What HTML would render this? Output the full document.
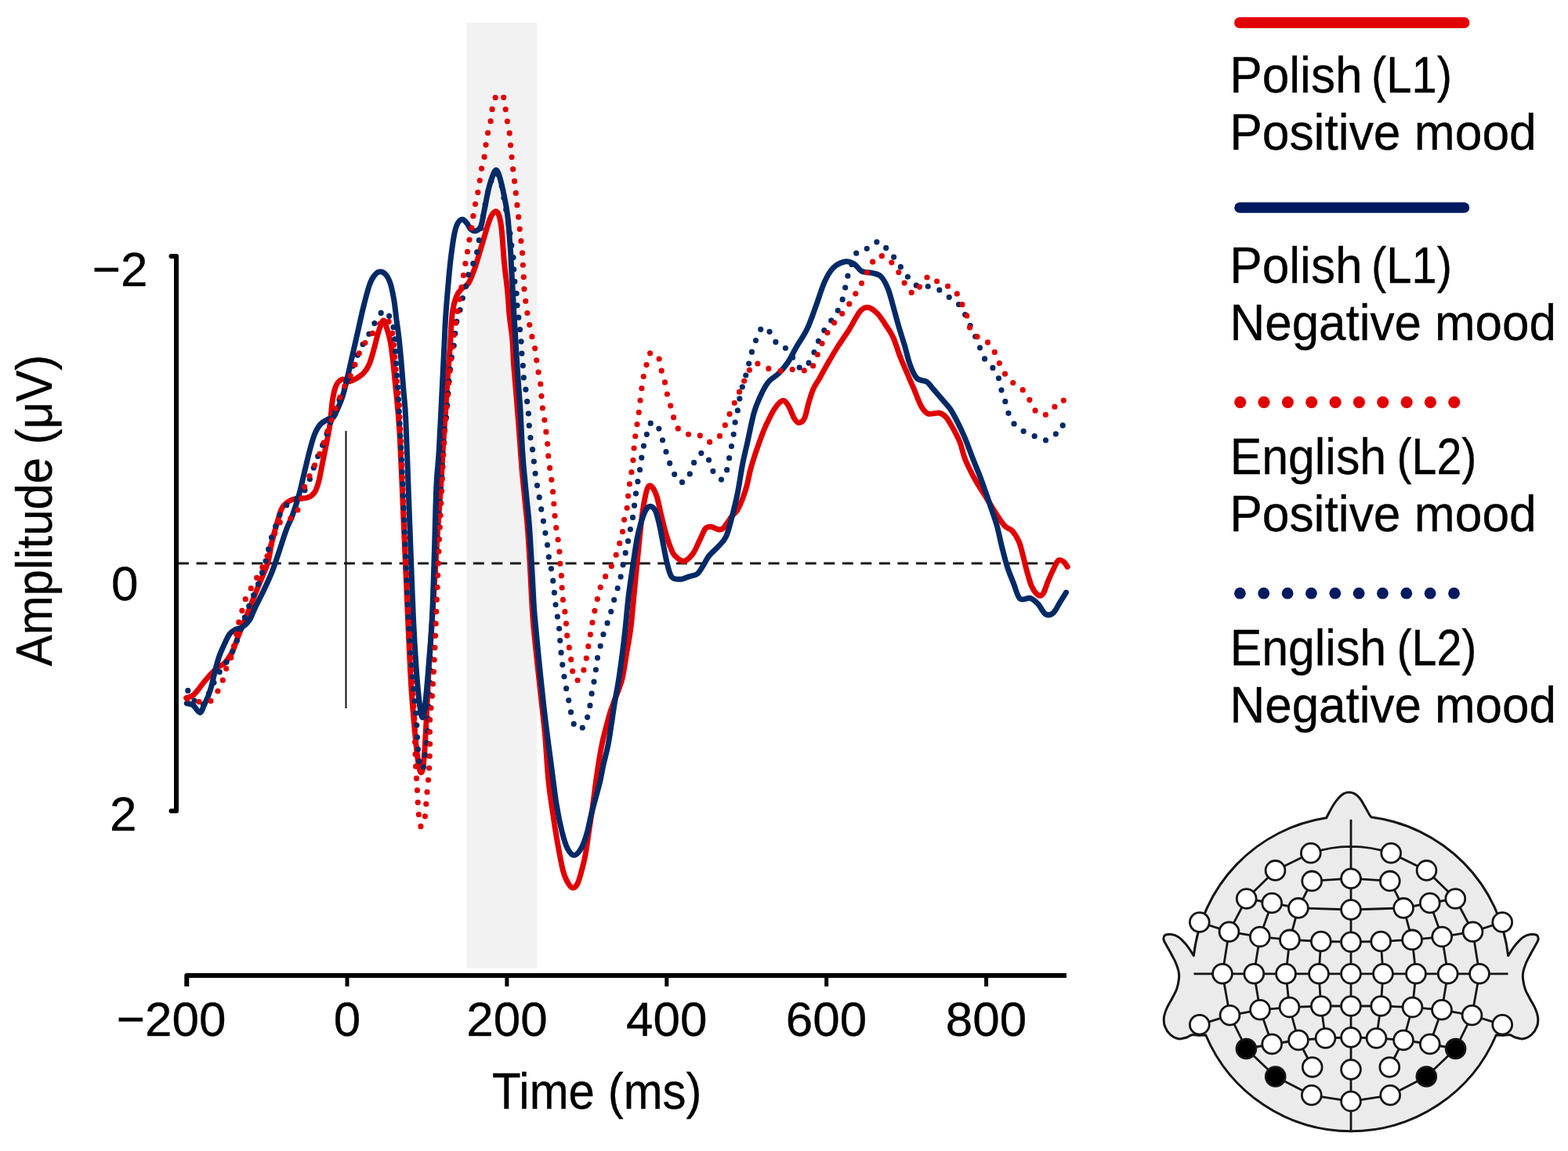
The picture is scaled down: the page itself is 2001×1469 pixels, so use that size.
<!DOCTYPE html><html><head><meta charset="utf-8"><title>ERP figure</title><style>html,body{margin:0;padding:0;background:#fff;overflow:hidden;width:2001px;height:1469px;}svg{display:block;}</style></head><body><svg width="2001" height="1469" viewBox="0 0 2001 1469">
<rect width="2001" height="1469" fill="#fff"/>
<rect x="595.5" y="29" width="90" height="1207" fill="#f2f2f2"/>
<line x1="227" y1="719" x2="1361" y2="719" stroke="#1a1a1a" stroke-width="3" stroke-dasharray="14 9.55"/>
<line x1="441.5" y1="550" x2="441.5" y2="904" stroke="#111" stroke-width="2"/>
<path d="M218.5 327 L225 327 L225 1035 L218.5 1035" fill="none" stroke="#000" stroke-width="6" stroke-linejoin="round" stroke-linecap="round"/>
<path d="M238.3 1259 L238.3 1245 L1361 1245" fill="none" stroke="#000" stroke-width="6" stroke-linejoin="round"/>
<line x1="443.0" y1="1245" x2="443.0" y2="1259" stroke="#000" stroke-width="5"/>
<line x1="646.9" y1="1245" x2="646.9" y2="1259" stroke="#000" stroke-width="5"/>
<line x1="850.8" y1="1245" x2="850.8" y2="1259" stroke="#000" stroke-width="5"/>
<line x1="1054.7" y1="1245" x2="1054.7" y2="1259" stroke="#000" stroke-width="5"/>
<line x1="1258.6" y1="1245" x2="1258.6" y2="1259" stroke="#000" stroke-width="5"/>
<path d="M237.6 890.7 C239.1 890.2 243.8 889.1 246.3 887.4 C248.9 885.7 250.7 882.9 252.9 880.3 C255.1 877.7 257.3 874.2 259.4 871.6 C261.5 869.0 263.5 866.7 265.4 864.5 C267.3 862.3 268.5 860.8 270.8 858.5 C273.1 856.2 276.3 853.1 279.0 851.0 C281.7 848.9 284.2 849.0 287.0 846.0 C289.8 843.0 293.7 836.8 295.9 833.0 C298.1 829.2 298.6 826.5 300.0 823.0 C301.4 819.5 302.6 815.7 304.0 812.0 C305.4 808.3 306.4 806.0 308.5 801.0 C310.6 796.0 313.6 788.7 316.3 782.0 C319.0 775.3 321.8 767.8 324.5 761.0 C327.2 754.2 329.7 748.1 332.6 741.0 C335.5 733.9 339.3 726.3 341.7 718.3 C344.1 710.3 344.8 701.3 346.8 692.8 C348.8 684.3 351.3 674.8 353.6 667.2 C355.9 659.7 357.5 652.3 360.4 647.5 C363.3 642.7 367.3 640.4 370.9 638.5 C374.5 636.6 378.2 636.8 381.8 636.2 C385.4 635.6 389.4 636.4 392.7 635.1 C396.0 633.8 399.0 632.0 401.4 628.5 C403.8 625.0 405.2 620.4 406.8 614.4 C408.4 608.4 409.7 599.9 411.2 592.6 C412.7 585.3 414.2 578.1 415.6 570.8 C417.1 563.5 418.8 555.4 419.9 549.0 C421.0 542.6 421.4 539.1 422.1 532.7 C422.8 526.4 423.2 517.7 424.3 510.9 C425.4 504.1 426.9 496.5 429.0 492.0 C431.1 487.5 434.4 484.8 437.0 484.0 C439.6 483.2 441.8 487.1 444.5 487.0 C447.2 486.9 450.2 485.5 453.5 483.7 C456.8 481.9 461.0 479.4 464.0 476.2 C467.0 473.0 469.2 469.5 471.4 464.3 C473.6 459.1 475.4 451.8 477.4 444.8 C479.4 437.8 481.4 428.3 483.4 422.3 C485.4 416.3 487.5 408.9 489.4 408.9 C491.3 408.9 493.1 417.6 494.6 422.3 C496.1 427.0 497.3 431.1 498.4 437.3 C499.5 443.6 500.4 451.1 501.4 459.8 C502.4 468.5 503.4 479.7 504.4 489.7 C505.4 499.7 506.4 507.9 507.4 519.6 C508.4 531.3 509.3 539.8 510.4 559.9 C511.5 580.0 512.8 613.3 514.0 640.0 C515.2 666.7 516.3 693.3 517.5 720.0 C518.7 746.7 519.8 773.3 521.0 800.0 C522.2 826.7 523.5 856.7 525.0 880.0 C526.5 903.3 528.5 924.2 530.0 940.0 C531.5 955.8 532.8 967.3 534.0 975.0 C535.2 982.7 536.4 986.0 537.5 986.0 C538.6 986.0 539.6 982.7 540.5 975.0 C541.4 967.3 542.2 952.5 543.0 940.0 C543.8 927.5 544.2 915.0 545.0 900.0 C545.8 885.0 546.4 868.3 547.5 850.0 C548.6 831.7 550.1 811.7 551.5 790.0 C552.9 768.3 554.8 740.0 556.0 720.0 C557.2 700.0 557.9 686.7 559.0 670.0 C560.1 653.3 561.7 635.5 562.7 619.8 C563.7 604.1 564.2 591.4 565.1 575.9 C566.0 560.4 567.3 543.2 568.4 526.9 C569.5 510.6 570.6 492.5 571.6 478.0 C572.6 463.5 573.6 453.0 574.5 440.0 C575.4 427.0 575.9 410.2 577.2 400.0 C578.5 389.8 580.3 383.9 582.3 378.7 C584.3 373.4 586.5 371.3 589.1 368.5 C591.7 365.7 594.9 366.2 597.7 361.7 C600.6 357.2 603.7 348.4 606.2 341.3 C608.8 334.2 611.0 325.6 613.0 319.1 C615.0 312.6 616.4 307.8 618.1 302.1 C619.8 296.4 621.7 289.6 623.2 285.1 C624.8 280.6 625.8 277.4 627.4 274.9 C629.0 272.3 631.0 269.8 632.6 269.8 C634.2 269.8 635.5 270.9 636.8 274.9 C638.1 278.9 639.1 283.4 640.2 293.6 C641.3 303.8 642.4 323.5 643.6 336.2 C644.8 348.9 646.4 359.0 647.5 370.0 C648.6 381.0 649.0 391.5 650.0 402.0 C651.0 412.5 652.9 422.7 653.8 433.0 C654.7 443.3 654.7 452.8 655.5 464.0 C656.3 475.2 657.5 488.2 658.5 500.0 C659.5 511.8 660.4 523.5 661.3 535.0 C662.2 546.5 663.0 558.2 663.8 569.0 C664.6 579.8 665.1 588.2 666.1 600.0 C667.1 611.8 668.9 628.3 670.0 640.0 C671.1 651.7 672.0 657.5 673.0 670.0 C674.0 682.5 675.1 700.0 676.0 715.0 C676.9 730.0 677.5 746.7 678.3 760.0 C679.0 773.3 679.4 781.7 680.5 795.0 C681.6 808.3 683.2 822.5 685.0 840.0 C686.8 857.5 689.7 883.3 691.5 900.0 C693.3 916.7 694.3 923.8 695.7 940.0 C697.1 956.2 698.3 980.5 700.0 997.2 C701.7 1013.9 703.9 1027.0 705.8 1040.1 C707.7 1053.2 709.4 1064.0 711.5 1075.9 C713.6 1087.8 716.5 1103.4 718.6 1111.7 C720.7 1120.0 722.3 1122.4 724.3 1126.0 C726.3 1129.6 728.6 1132.9 730.8 1133.1 C732.9 1133.3 735.2 1131.5 737.2 1127.4 C739.2 1123.4 741.2 1115.0 742.9 1108.8 C744.6 1102.6 745.8 1098.1 747.2 1090.2 C748.6 1082.3 750.1 1071.1 751.5 1061.6 C752.9 1052.1 754.1 1044.9 755.8 1033.0 C757.5 1021.1 759.6 1003.2 761.5 990.1 C763.4 977.0 765.3 964.6 767.3 954.3 C769.3 943.9 771.5 935.7 773.5 928.0 C775.5 920.3 777.2 913.8 779.0 908.0 C780.8 902.2 782.8 897.7 784.5 893.0 C786.2 888.3 787.9 884.5 789.5 880.0 C791.1 875.5 792.4 873.5 794.1 866.0 C795.8 858.5 797.7 845.8 799.5 834.9 C801.3 824.0 803.4 813.4 805.0 800.9 C806.6 788.4 807.6 773.8 809.0 760.0 C810.4 746.2 811.8 731.2 813.1 718.0 C814.4 704.8 815.6 692.2 816.8 681.0 C818.0 669.8 819.0 660.2 820.4 651.0 C821.8 641.8 823.7 631.2 825.3 626.0 C826.9 620.8 828.2 619.0 830.2 620.0 C832.2 621.0 835.4 625.8 837.6 632.0 C839.9 638.2 841.7 648.8 843.7 657.0 C845.7 665.2 847.8 673.9 849.8 681.0 C851.8 688.1 854.1 694.9 856.0 699.6 C857.9 704.3 858.2 706.2 861.0 709.0 C863.8 711.8 868.8 716.6 872.6 716.2 C876.5 715.9 880.6 711.5 884.1 706.9 C887.6 702.3 890.7 693.8 893.4 688.4 C896.1 683.0 898.0 677.2 900.3 674.5 C902.6 671.8 904.6 672.0 907.3 672.2 C910.0 672.4 914.0 675.2 916.5 675.7 C919.0 676.2 920.2 676.1 922.0 675.0 C923.8 673.9 925.3 671.2 927.0 669.0 C928.7 666.8 930.4 663.7 932.0 661.5 C933.6 659.3 935.0 657.7 936.5 656.0 C938.0 654.3 939.1 654.5 940.9 651.3 C942.7 648.1 945.5 642.2 947.5 637.0 C949.5 631.8 951.3 626.2 953.0 620.0 C954.7 613.8 956.0 605.8 957.5 600.0 C959.0 594.2 960.4 590.0 962.0 585.0 C963.6 580.0 965.2 575.0 967.0 570.0 C968.8 565.0 970.5 560.1 972.5 555.0 C974.5 549.9 976.3 545.2 979.0 539.6 C981.7 534.0 985.5 525.9 988.8 521.2 C992.1 516.5 995.7 512.0 998.6 511.4 C1001.5 510.8 1003.5 513.9 1006.0 517.6 C1008.5 521.3 1011.1 529.8 1013.3 533.5 C1015.5 537.2 1017.1 539.6 1019.4 539.6 C1021.6 539.6 1024.8 537.6 1026.8 533.5 C1028.8 529.4 1029.9 521.2 1031.7 515.1 C1033.5 509.0 1035.5 502.0 1037.8 496.7 C1040.1 491.4 1042.4 488.8 1045.6 483.2 C1048.8 477.6 1052.7 470.1 1056.8 463.0 C1060.9 455.9 1065.8 447.6 1070.3 440.5 C1074.8 433.4 1079.3 427.4 1083.8 420.3 C1088.3 413.2 1093.3 402.5 1097.2 397.8 C1101.1 393.1 1103.5 391.8 1107.3 392.2 C1111.0 392.6 1115.8 396.2 1119.7 400.1 C1123.6 404.0 1127.5 410.7 1130.9 415.8 C1134.3 420.9 1137.0 424.3 1140.0 431.0 C1143.0 437.7 1146.0 448.4 1149.0 456.0 C1152.0 463.6 1154.8 469.7 1157.7 476.5 C1160.6 483.3 1163.5 489.9 1166.5 496.9 C1169.5 503.8 1172.5 513.0 1175.4 518.2 C1178.4 523.4 1180.4 526.4 1184.2 527.9 C1188.0 529.4 1194.6 526.3 1198.4 527.0 C1202.2 527.7 1204.2 529.0 1207.2 532.3 C1210.2 535.5 1213.1 541.2 1216.1 546.5 C1219.0 551.8 1222.2 557.5 1224.9 564.2 C1227.6 571.0 1228.7 579.0 1232.0 587.0 C1235.3 595.0 1240.2 604.5 1244.5 612.3 C1248.8 620.0 1253.2 626.4 1257.6 633.5 C1262.0 640.6 1266.6 648.5 1270.7 654.8 C1274.8 661.1 1278.6 667.3 1282.1 671.1 C1285.6 674.9 1288.9 674.3 1291.9 677.6 C1294.9 680.9 1297.9 685.8 1300.1 690.7 C1302.3 695.6 1303.4 701.1 1305.0 707.1 C1306.6 713.1 1308.0 719.9 1309.9 726.7 C1311.8 733.5 1314.0 742.5 1316.4 747.9 C1318.9 753.3 1322.1 757.7 1324.6 759.3 C1327.0 760.9 1328.9 760.7 1331.1 757.7 C1333.3 754.7 1335.4 746.6 1337.6 741.4 C1339.8 736.2 1342.0 731.1 1344.2 726.7 C1346.4 722.3 1348.5 716.8 1350.7 715.2 C1352.9 713.6 1355.4 715.5 1357.3 716.9 C1359.2 718.3 1361.4 722.3 1362.2 723.4" fill="none" stroke="#e00000" stroke-width="7" stroke-linejoin="round" stroke-linecap="round"/>
<path d="M238.2 897.7 C239.5 898.1 243.5 897.9 246.3 899.9 C249.1 901.9 252.7 909.5 255.1 909.5 C257.5 909.5 258.8 903.3 260.5 899.9 C262.2 896.5 263.9 892.6 265.4 889.0 C266.8 885.4 268.0 882.2 269.2 878.1 C270.4 874.0 271.4 869.0 272.5 864.5 C273.6 860.0 274.6 855.5 275.8 850.9 C277.1 846.3 278.4 841.4 280.0 837.0 C281.6 832.6 283.2 828.9 285.4 824.3 C287.5 819.7 290.4 812.9 292.9 809.4 C295.4 805.9 297.6 804.9 300.4 803.4 C303.1 801.9 306.4 802.4 309.4 800.4 C312.4 798.4 315.6 795.6 318.4 791.4 C321.1 787.1 323.1 780.6 325.9 774.9 C328.6 769.1 331.9 763.1 334.9 756.9 C337.9 750.7 341.4 743.2 343.9 737.5 C346.4 731.8 347.7 728.5 349.9 722.5 C352.1 716.5 354.4 709.1 357.0 701.3 C359.6 693.5 362.8 682.9 365.5 675.7 C368.2 668.5 370.4 665.5 373.1 658.0 C375.8 650.5 379.3 639.8 381.8 630.7 C384.3 621.6 386.1 612.6 388.3 603.5 C390.5 594.4 392.7 584.5 394.9 576.3 C397.1 568.1 399.0 560.3 401.4 554.5 C403.8 548.7 406.1 544.7 409.0 541.4 C411.9 538.1 416.1 536.3 418.8 534.9 C421.5 533.5 423.4 534.9 425.4 532.7 C427.4 530.5 428.9 525.9 430.8 521.8 C432.7 517.7 434.7 513.4 436.5 508.0 C438.3 502.6 439.4 498.2 441.5 489.7 C443.6 481.2 446.5 467.8 449.0 456.8 C451.5 445.8 454.0 434.8 456.5 423.8 C459.0 412.8 461.5 400.9 464.0 390.9 C466.5 380.9 469.2 370.5 471.4 364.0 C473.6 357.5 475.1 354.9 477.4 352.0 C479.6 349.1 482.4 346.9 484.9 346.7 C487.4 346.4 490.1 347.9 492.4 350.5 C494.6 353.1 496.6 357.0 498.4 362.5 C500.1 368.0 501.6 375.9 502.9 383.4 C504.1 390.9 504.9 399.7 505.9 407.4 C506.9 415.1 507.9 421.1 508.9 429.8 C509.9 438.5 510.9 448.6 511.9 459.8 C512.9 471.0 513.9 484.7 514.9 497.2 C515.9 509.7 516.8 514.1 517.8 534.6 C518.8 555.1 520.0 592.4 521.0 620.0 C522.0 647.6 522.9 671.7 524.0 700.0 C525.1 728.3 526.3 765.0 527.5 790.0 C528.7 815.0 529.8 832.5 531.0 850.0 C532.2 867.5 533.7 884.0 535.0 895.0 C536.3 906.0 537.7 915.7 539.0 915.7 C540.3 915.7 541.7 906.0 543.0 895.0 C544.3 884.0 545.6 867.5 547.0 850.0 C548.4 832.5 550.1 815.0 551.4 790.0 C552.6 765.0 553.6 728.4 554.5 700.0 C555.4 671.6 555.9 640.5 556.9 619.8 C557.9 599.1 559.1 594.1 560.2 575.9 C561.3 557.7 562.4 532.4 563.5 510.6 C564.6 488.8 565.8 463.0 566.7 445.3 C567.6 427.6 567.8 418.2 568.7 404.3 C569.6 390.4 571.0 374.5 572.1 361.7 C573.2 348.9 574.2 338.2 575.5 327.7 C576.8 317.2 578.4 305.8 579.8 298.7 C581.2 291.6 582.3 288.2 584.0 285.1 C585.7 282.0 588.0 280.0 590.0 280.0 C592.0 280.0 594.2 283.0 596.0 285.1 C597.8 287.2 599.0 291.2 601.0 292.8 C603.0 294.4 605.8 295.2 607.9 294.5 C610.0 293.8 612.1 292.9 613.8 288.5 C615.5 284.1 616.5 275.8 618.1 268.1 C619.7 260.5 621.5 249.7 623.2 242.6 C624.9 235.5 626.6 229.8 628.3 225.5 C630.0 221.2 631.7 216.4 633.4 217.0 C635.1 217.6 636.8 223.2 638.5 228.9 C640.2 234.6 642.0 243.1 643.6 251.1 C645.2 259.1 646.6 265.1 647.9 276.6 C649.2 288.1 650.7 309.4 651.5 320.0 C652.3 330.6 652.0 331.7 652.5 340.0 C653.0 348.3 653.7 359.7 654.3 370.0 C654.9 380.3 655.4 391.5 656.0 402.0 C656.6 412.5 657.3 422.7 657.9 433.0 C658.5 443.3 659.1 454.0 659.8 464.0 C660.4 474.0 661.1 483.2 661.8 493.0 C662.5 502.8 663.2 510.0 664.0 522.7 C664.8 535.4 665.5 556.1 666.3 569.0 C667.1 581.9 667.6 589.0 668.6 600.0 C669.6 611.0 670.9 623.3 672.0 635.0 C673.1 646.7 674.4 656.8 675.4 670.1 C676.4 683.4 677.3 699.9 678.2 715.0 C679.1 730.1 679.9 749.1 680.6 760.8 C681.3 772.5 681.1 771.8 682.2 785.0 C683.4 798.2 685.6 820.8 687.5 840.0 C689.4 859.2 691.9 883.3 693.8 900.0 C695.6 916.7 696.9 926.2 698.6 940.0 C700.4 953.8 702.4 968.6 704.3 982.9 C706.2 997.2 707.9 1012.7 710.0 1025.8 C712.1 1038.9 714.8 1052.0 717.2 1061.6 C719.6 1071.1 721.7 1078.1 724.3 1083.1 C726.9 1088.1 730.0 1091.6 732.9 1091.6 C735.8 1091.6 738.9 1087.6 741.5 1083.1 C744.1 1078.6 746.6 1071.7 748.7 1064.5 C750.9 1057.3 752.5 1047.7 754.4 1040.1 C756.3 1032.5 758.2 1025.8 760.1 1018.7 C762.0 1011.6 764.1 1004.4 765.8 997.2 C767.5 990.1 768.4 983.4 770.1 975.8 C771.8 968.2 774.2 960.1 775.9 951.4 C777.6 942.7 779.0 932.7 780.4 923.5 C781.8 914.3 783.0 905.3 784.5 896.2 C786.0 887.1 787.7 879.2 789.3 869.0 C790.9 858.8 792.6 846.2 794.1 834.9 C795.6 823.5 796.8 813.4 798.1 800.9 C799.5 788.4 800.5 773.8 802.2 760.0 C803.9 746.2 806.4 730.2 808.2 718.0 C810.0 705.8 811.5 695.5 813.1 687.0 C814.7 678.5 816.2 673.0 818.0 667.0 C819.8 661.0 822.1 654.5 824.1 651.0 C826.1 647.5 828.2 646.1 830.2 646.3 C832.2 646.5 834.5 648.2 836.4 652.0 C838.2 655.8 839.7 662.1 841.3 669.0 C842.9 675.9 844.6 685.3 846.2 693.5 C847.8 701.7 849.3 710.9 851.1 718.0 C852.9 725.1 854.4 732.9 857.2 736.4 C860.0 739.9 864.2 739.4 867.9 739.3 C871.6 739.2 875.8 736.9 879.5 735.8 C883.2 734.6 886.8 734.9 889.9 732.4 C893.0 729.9 895.5 724.7 898.0 720.8 C900.5 716.9 901.8 713.1 904.9 709.2 C908.0 705.3 912.9 701.6 916.5 697.6 C920.1 693.6 923.7 690.9 926.5 685.0 C929.3 679.1 931.0 671.5 933.5 662.0 C936.0 652.5 939.2 639.7 941.5 628.2 C943.8 616.7 945.5 603.4 947.5 593.0 C949.5 582.6 951.0 577.2 953.5 566.0 C956.0 554.8 959.5 536.2 962.5 525.8 C965.5 515.4 968.4 509.8 971.4 503.4 C974.4 497.0 976.6 492.2 980.4 487.7 C984.1 483.2 989.8 480.5 993.9 476.4 C998.0 472.3 1001.4 468.6 1005.1 463.0 C1008.9 457.4 1012.3 449.8 1016.4 442.7 C1020.5 435.6 1025.7 428.9 1029.8 420.3 C1033.9 411.7 1037.3 401.2 1041.1 391.1 C1044.8 381.0 1048.6 367.8 1052.3 359.6 C1056.0 351.4 1059.0 346.0 1063.5 341.7 C1068.0 337.4 1074.8 334.6 1079.3 333.8 C1083.8 333.1 1087.1 335.1 1090.5 337.2 C1093.9 339.3 1095.8 344.3 1099.5 346.2 C1103.2 348.1 1108.9 347.3 1113.0 348.4 C1117.1 349.5 1120.8 349.5 1124.2 352.9 C1127.6 356.3 1130.6 362.2 1133.2 368.6 C1135.8 375.0 1137.6 383.0 1139.9 391.1 C1142.2 399.2 1144.7 409.1 1147.1 417.3 C1149.5 425.5 1151.8 432.3 1154.2 440.3 C1156.6 448.3 1158.6 458.0 1161.2 465.1 C1163.8 472.2 1166.5 479.1 1170.1 482.8 C1173.6 486.5 1179.0 484.9 1182.5 487.2 C1186.0 489.5 1188.1 493.2 1191.3 496.9 C1194.5 500.6 1198.4 505.2 1201.9 509.3 C1205.4 513.4 1209.2 517.0 1212.5 521.7 C1215.8 526.4 1218.3 531.6 1221.4 537.6 C1224.5 543.6 1227.7 550.2 1231.0 558.0 C1234.3 565.8 1237.9 576.0 1241.2 584.5 C1244.5 593.0 1248.0 601.1 1251.0 609.0 C1254.0 616.9 1256.7 624.8 1259.2 631.9 C1261.7 639.0 1263.6 645.0 1265.8 651.5 C1268.0 658.0 1270.1 663.2 1272.3 671.1 C1274.5 679.0 1276.6 690.2 1278.8 698.9 C1281.0 707.6 1283.0 715.8 1285.4 723.4 C1287.9 731.0 1290.8 737.8 1293.5 744.6 C1296.2 751.4 1298.2 761.1 1301.7 764.2 C1305.2 767.3 1311.0 762.3 1314.8 763.4 C1318.6 764.5 1321.3 767.4 1324.6 770.8 C1327.9 774.2 1331.1 782.0 1334.4 783.9 C1337.7 785.8 1341.2 784.7 1344.2 782.2 C1347.2 779.8 1349.7 773.6 1352.4 769.2 C1355.1 764.9 1359.2 758.3 1360.5 756.1" fill="none" stroke="#022a66" stroke-width="7" stroke-linejoin="round" stroke-linecap="round"/>
<path d="M239.8 881.4 C240.8 883.0 243.8 887.7 246.0 891.0 C248.2 894.3 250.7 899.8 253.0 901.0 C255.3 902.2 257.8 900.5 260.0 898.0 C262.2 895.5 264.2 889.7 266.0 886.0 C267.8 882.3 269.1 879.0 270.5 876.0 C271.9 873.0 273.1 871.3 274.7 868.3 C276.3 865.3 278.1 861.0 280.0 858.0 C281.9 855.0 284.1 852.9 286.0 850.0 C287.9 847.1 289.2 844.6 291.4 840.8 C293.5 837.0 296.8 832.0 298.9 827.3 C301.0 822.6 302.3 817.8 304.2 812.4 C306.1 807.0 308.0 800.7 310.0 795.0 C312.0 789.3 314.2 782.8 316.0 778.0 C317.8 773.2 319.2 770.0 320.9 766.0 C322.5 762.0 324.1 758.3 325.9 753.9 C327.7 749.5 330.1 744.7 331.9 739.7 C333.6 734.7 334.9 729.0 336.4 724.0 C337.9 719.0 339.6 714.9 340.9 709.7 C342.2 704.5 342.9 698.0 344.3 692.8 C345.7 687.6 347.7 683.1 349.4 678.3 C351.1 673.5 352.7 668.5 354.5 663.8 C356.3 659.1 358.1 653.7 360.4 650.2 C362.6 646.7 365.4 645.0 368.0 643.0 C370.6 641.0 373.1 639.8 376.0 638.0 C378.9 636.2 382.7 634.8 385.1 632.3 C387.5 629.8 388.4 626.8 390.2 623.0 C392.0 619.2 394.3 614.2 396.2 609.4 C398.1 604.6 399.5 599.1 401.3 594.0 C403.1 588.9 405.2 583.7 407.2 578.7 C409.2 573.8 411.3 569.1 413.2 564.3 C415.1 559.5 416.7 554.5 418.3 549.8 C419.9 545.1 421.3 540.5 423.0 536.0 C424.7 531.5 426.7 527.1 428.5 522.6 C430.3 518.1 431.9 512.9 433.6 508.9 C435.3 504.9 437.0 502.8 438.7 498.7 C440.4 494.6 441.9 489.7 444.0 484.0 C446.1 478.3 448.8 470.2 451.2 464.3 C453.6 458.4 456.3 453.4 458.7 448.5 C461.1 443.6 462.9 439.5 465.4 435.0 C467.9 430.5 471.2 426.1 473.7 421.6 C476.2 417.1 477.5 412.4 480.4 408.1 C483.3 403.9 487.6 395.7 490.9 396.1 C494.1 396.5 497.9 405.8 499.9 410.4 C501.9 415.0 502.1 418.6 502.9 423.8 C503.6 429.0 503.9 434.1 504.4 441.8 C504.9 449.5 505.4 460.3 506.0 470.0 C506.6 479.7 507.3 488.3 508.0 500.0 C508.7 511.7 509.0 520.0 510.0 540.0 C511.0 560.0 512.7 590.0 514.0 620.0 C515.3 650.0 516.5 686.7 518.0 720.0 C519.5 753.3 521.3 793.3 523.0 820.0 C524.7 846.7 526.6 863.3 528.0 880.0 C529.4 896.7 530.7 908.3 531.5 920.0 C532.3 931.7 532.3 940.8 533.0 950.0 C533.7 959.2 534.6 969.7 535.5 975.0 C536.4 980.3 537.6 981.7 538.5 982.0 C539.4 982.3 540.2 980.7 541.0 977.0 C541.8 973.3 542.2 967.0 543.0 960.0 C543.8 953.0 544.8 945.0 545.5 935.0 C546.2 925.0 546.8 914.2 547.5 900.0 C548.2 885.8 548.7 870.0 549.5 850.0 C550.3 830.0 551.4 801.7 552.5 780.0 C553.6 758.3 554.9 738.3 556.0 720.0 C557.1 701.7 557.8 687.5 559.0 670.0 C560.2 652.5 562.5 629.6 563.5 615.1 C564.5 600.6 564.6 593.8 565.1 583.3 C565.6 572.8 566.0 560.0 566.7 552.2 C567.4 544.4 568.4 544.5 569.2 536.7 C570.0 529.0 570.8 516.0 571.6 505.7 C572.4 495.4 573.3 483.1 574.1 474.7 C574.9 466.2 575.7 460.2 576.5 455.0 C577.3 449.8 578.2 447.9 578.9 443.4 C579.6 438.9 580.0 433.2 580.6 428.1 C581.2 423.0 581.3 417.9 582.3 412.8 C583.3 407.7 585.3 402.5 586.6 397.4 C587.9 392.3 588.7 387.3 590.0 382.1 C591.3 376.9 593.0 371.2 594.3 366.0 C595.6 360.8 596.2 355.4 597.7 350.6 C599.2 345.8 601.8 341.8 603.6 337.0 C605.4 332.2 607.4 326.8 608.7 321.7 C610.0 316.6 610.2 312.5 611.3 306.4 C612.3 300.3 613.7 292.4 615.0 285.0 C616.3 277.6 617.5 269.5 619.0 262.0 C620.5 254.5 622.3 246.0 624.0 240.0 C625.7 234.0 627.3 229.2 629.0 226.0 C630.7 222.8 632.3 220.0 634.0 221.0 C635.7 222.0 637.3 225.8 639.0 232.0 C640.7 238.2 642.5 250.0 644.0 258.0 C645.5 266.0 646.9 274.1 648.0 280.0 C649.1 285.9 649.7 288.8 650.4 293.6 C651.1 298.4 651.4 303.6 652.1 308.9 C652.8 314.1 654.1 320.0 654.7 325.1 C655.3 330.2 655.2 334.5 655.5 339.6 C655.8 344.7 655.8 350.3 656.4 355.7 C657.0 361.1 658.3 366.6 658.9 371.9 C659.5 377.1 659.4 382.1 659.8 387.2 C660.2 392.3 660.9 397.5 661.5 402.6 C662.1 407.7 662.6 412.8 663.2 417.9 C663.8 423.0 664.5 428.1 664.9 433.2 C665.3 438.3 665.3 442.9 665.7 448.5 C666.1 454.1 667.0 461.0 667.4 466.5 C667.8 472.0 667.7 476.4 668.3 481.6 C668.9 486.8 670.3 492.3 671.0 497.5 C671.7 502.7 672.1 507.4 672.7 512.6 C673.3 517.8 674.0 523.2 674.5 528.5 C675.0 533.8 674.9 539.1 675.4 544.4 C675.9 549.7 676.5 555.2 677.2 560.4 C677.9 565.6 679.1 570.2 679.8 575.4 C680.5 580.5 681.0 586.1 681.6 591.3 C682.2 596.5 682.7 601.2 683.4 606.4 C684.1 611.6 685.1 617.1 686.0 622.3 C686.9 627.4 687.8 632.1 688.7 637.3 C689.6 642.5 690.4 648.1 691.3 653.3 C692.2 658.5 693.1 663.1 694.0 668.3 C694.9 673.4 695.7 679.0 696.6 684.2 C697.5 689.4 698.5 694.5 699.2 699.7 C699.9 704.9 700.1 710.4 701.0 715.6 C701.9 720.8 703.6 725.5 704.5 730.7 C705.4 735.9 705.7 741.5 706.3 746.6 C706.9 751.8 707.4 756.4 708.0 761.6 C708.6 766.8 709.0 772.3 709.8 777.6 C710.5 782.9 711.8 788.4 712.5 793.5 C713.2 798.6 713.8 803.4 714.2 808.5 C714.6 813.6 714.7 819.2 715.1 824.4 C715.5 829.6 716.3 834.3 716.9 839.5 C717.5 844.7 717.9 850.2 718.6 855.4 C719.3 860.5 720.4 865.2 721.3 870.4 C722.2 875.6 723.0 881.2 724.0 886.4 C725.0 891.6 726.5 896.2 727.5 901.4 C728.5 906.5 728.6 912.4 730.1 917.3 C731.6 922.2 733.5 929.3 736.3 930.6 C739.1 931.9 744.6 928.7 747.0 925.3 C749.4 921.9 749.3 915.2 750.5 910.2 C751.7 905.2 753.1 900.4 754.0 895.2 C754.9 890.1 754.9 884.5 755.8 879.3 C756.7 874.1 758.4 869.4 759.3 864.2 C760.2 859.0 760.4 853.4 761.1 848.3 C761.9 843.1 762.6 838.4 763.8 833.3 C765.0 828.1 766.9 822.4 768.2 817.4 C769.5 812.4 770.1 808.1 771.7 803.2 C773.3 798.3 776.3 793.2 777.9 788.2 C779.5 783.2 780.0 778.2 781.4 773.1 C782.8 768.0 784.7 762.4 786.2 757.4 C787.7 752.4 789.1 747.8 790.4 742.9 C791.7 738.0 792.9 732.8 793.9 727.7 C794.9 722.6 795.5 717.5 796.6 712.4 C797.7 707.2 799.3 701.9 800.4 696.8 C801.5 691.6 802.1 686.7 803.1 681.5 C804.1 676.3 805.6 670.9 806.6 665.7 C807.6 660.5 808.2 655.3 808.9 650.2 C809.6 645.1 810.1 640.4 810.8 635.2 C811.5 630.0 812.2 624.2 813.1 619.0 C814.0 613.8 815.0 609.0 815.9 603.9 C816.8 598.8 817.4 593.6 818.2 588.4 C819.0 583.2 819.4 577.8 820.5 572.7 C821.6 567.7 823.5 563.2 824.7 558.1 C825.9 553.0 825.7 545.2 827.9 542.2 C830.1 539.2 835.2 538.1 837.8 540.3 C840.3 542.5 841.5 550.5 843.2 555.4 C845.0 560.3 846.8 564.9 848.3 569.9 C849.8 574.9 850.7 580.4 852.4 585.4 C854.1 590.4 856.6 595.3 858.7 600.0 C860.8 604.7 862.1 611.4 864.9 613.7 C867.7 616.0 872.7 616.1 875.6 613.7 C878.5 611.3 880.4 604.0 882.5 599.3 C884.6 594.6 885.4 589.1 888.1 585.4 C890.8 581.7 895.5 576.4 898.5 577.3 C901.5 578.1 903.9 585.9 906.1 590.5 C908.3 595.1 909.2 601.5 911.9 605.1 C914.6 608.7 919.6 613.1 922.3 612.0 C925.0 610.9 926.7 603.0 928.1 598.2 C929.5 593.4 929.9 588.2 930.9 583.1 C931.9 578.0 932.9 572.6 933.9 567.4 C934.9 562.2 935.8 557.1 936.6 551.9 C937.4 546.7 937.6 541.6 938.5 536.4 C939.4 531.2 941.1 525.7 942.1 520.6 C943.1 515.5 943.4 510.7 944.4 505.6 C945.4 500.5 947.0 495.0 948.4 489.9 C949.8 484.8 951.6 479.9 953.0 474.9 C954.4 469.8 955.5 464.6 956.8 459.6 C958.1 454.6 959.1 449.9 960.7 445.0 C962.3 440.1 964.1 435.1 966.3 430.4 C968.5 425.7 971.0 417.5 974.1 416.9 C977.2 416.3 981.8 423.1 984.9 427.0 C988.0 430.9 989.3 437.3 992.8 440.5 C996.2 443.7 1002.2 443.1 1005.6 446.1 C1009.0 449.1 1010.1 454.4 1013.0 458.5 C1015.9 462.6 1019.6 470.4 1023.1 470.8 C1026.6 471.2 1031.1 464.6 1033.9 460.7 C1036.7 456.8 1038.0 451.9 1040.0 447.2 C1042.0 442.5 1043.4 437.3 1045.6 432.6 C1047.8 427.9 1050.6 423.5 1053.4 419.2 C1056.2 414.9 1059.6 410.9 1062.4 406.8 C1065.2 402.7 1068.0 398.9 1070.3 394.4 C1072.5 389.9 1074.4 384.9 1075.9 379.8 C1077.4 374.8 1078.2 369.2 1079.3 364.1 C1080.4 359.1 1081.1 354.4 1082.6 349.5 C1084.0 344.6 1085.9 339.9 1088.0 335.0 C1090.1 330.1 1091.5 323.4 1095.0 320.3 C1098.5 317.2 1104.4 318.6 1108.9 316.5 C1113.4 314.4 1117.9 307.6 1121.9 308.0 C1125.9 308.4 1129.3 315.1 1132.7 318.8 C1136.1 322.6 1139.5 326.5 1142.5 330.5 C1145.5 334.5 1148.0 338.9 1151.0 343.0 C1154.0 347.1 1156.8 351.6 1160.3 355.4 C1163.8 359.2 1167.7 363.9 1171.8 365.6 C1175.9 367.3 1180.7 364.9 1185.1 365.6 C1189.5 366.3 1194.1 367.7 1198.4 369.9 C1202.7 372.1 1206.7 375.9 1210.8 378.9 C1214.9 381.9 1219.8 384.5 1223.2 388.1 C1226.6 391.7 1228.6 395.9 1231.1 400.5 C1233.6 405.1 1236.0 410.8 1238.2 415.5 C1240.4 420.2 1242.3 424.1 1244.4 428.8 C1246.5 433.5 1248.6 439.1 1250.6 443.9 C1252.6 448.7 1253.7 453.4 1256.4 457.7 C1259.1 462.0 1264.0 465.3 1267.0 469.5 C1270.0 473.7 1272.7 478.1 1274.5 482.8 C1276.3 487.5 1276.6 492.8 1278.0 497.8 C1279.4 502.8 1281.5 507.9 1283.0 512.9 C1284.5 517.9 1285.3 523.2 1287.2 527.9 C1289.1 532.6 1291.1 537.5 1294.3 541.2 C1297.5 545.0 1302.0 547.8 1306.3 550.4 C1310.6 553.0 1315.3 554.7 1319.9 556.6 C1324.5 558.5 1329.3 562.2 1333.7 561.9 C1338.1 561.6 1342.3 558.2 1346.1 555.0 C1349.8 551.8 1354.5 544.9 1356.2 542.9" fill="none" stroke="#022a66" stroke-width="7.2" stroke-linecap="round" stroke-dasharray="0 15.4145"/>
<circle cx="1356.2" cy="542.9" r="3.6" fill="#022a66"/>
<path d="M239.0 892.0 C241.4 892.6 248.6 895.1 253.4 895.6 C258.2 896.1 264.1 897.1 268.1 895.0 C272.1 892.9 274.8 887.3 277.4 883.0 C280.0 878.7 282.0 874.4 283.9 869.4 C285.8 864.4 287.1 857.8 288.8 853.0 C290.6 848.2 292.7 845.8 294.4 840.8 C296.1 835.8 297.5 829.8 299.0 823.0 C300.5 816.2 301.8 807.2 303.4 800.0 C305.0 792.8 307.1 785.8 308.7 780.0 C310.3 774.2 311.1 770.0 313.1 765.0 C315.1 760.0 318.1 754.9 320.6 750.2 C323.1 745.5 325.7 741.1 328.1 736.7 C330.5 732.3 332.8 728.5 334.9 724.0 C337.0 719.5 339.0 714.8 340.9 710.0 C342.8 705.2 344.3 700.0 346.0 695.0 C347.7 690.0 349.2 684.7 351.0 680.0 C352.8 675.3 354.5 670.2 357.0 667.0 C359.5 663.8 363.2 662.0 366.0 661.0 C368.8 660.0 371.5 663.4 374.0 661.3 C376.5 659.2 379.0 653.4 380.9 648.5 C382.8 643.6 383.9 637.2 385.5 632.0 C387.1 626.8 388.3 621.8 390.2 617.0 C392.1 612.2 394.7 608.1 397.0 603.4 C399.3 598.7 401.5 594.1 403.8 589.0 C406.1 583.9 408.8 577.8 410.6 572.8 C412.5 567.8 413.3 563.8 414.9 559.1 C416.5 554.4 418.1 549.9 420.0 544.7 C421.9 539.5 424.0 533.5 426.0 528.0 C428.0 522.5 430.0 517.2 432.0 512.0 C434.0 506.8 436.0 501.5 438.0 497.0 C440.0 492.5 441.9 489.0 444.0 485.0 C446.1 481.0 448.7 477.5 450.5 473.2 C452.3 468.9 453.2 463.6 455.0 459.0 C456.8 454.4 458.5 450.0 461.0 445.5 C463.5 441.0 466.8 436.2 470.0 432.0 C473.2 427.8 476.6 424.1 480.0 420.0 C483.4 415.9 487.3 408.7 490.1 407.4 C492.9 406.1 495.1 408.3 497.0 412.0 C498.9 415.7 500.4 424.3 501.4 429.8 C502.4 435.3 502.4 439.3 502.9 444.8 C503.4 450.3 503.9 456.8 504.4 462.8 C504.9 468.8 505.4 475.2 505.9 480.7 C506.4 486.2 506.9 490.9 507.4 495.7 C507.9 500.4 508.5 504.2 508.9 509.2 C509.3 514.2 509.4 520.6 509.6 525.6 C509.9 530.6 509.8 526.7 510.4 539.1 C511.0 551.5 511.9 573.2 513.0 600.0 C514.1 626.8 515.4 665.2 517.0 700.0 C518.6 734.8 521.6 782.9 522.9 809.0 C524.2 835.1 523.8 839.6 524.8 856.7 C525.8 873.9 527.8 897.6 528.6 911.9 C529.4 926.2 529.2 931.9 529.5 942.4 C529.8 952.9 530.0 964.0 530.5 974.8 C531.0 985.6 531.8 996.4 532.4 1007.0 C533.0 1017.6 533.5 1030.6 534.3 1038.6 C535.1 1046.6 535.8 1053.7 537.1 1054.8 C538.4 1055.9 540.6 1052.0 541.9 1045.2 C543.2 1038.4 543.8 1024.3 544.8 1013.8 C545.8 1003.3 547.0 992.7 547.6 982.4 C548.2 972.1 548.4 962.4 548.6 951.9 C548.8 941.4 548.1 930.0 548.6 919.5 C549.1 909.0 550.5 902.0 551.4 889.0 C552.3 876.0 553.5 857.1 554.3 841.4 C555.1 825.7 555.5 811.7 556.2 794.8 C556.9 777.9 557.8 757.5 558.5 740.0 C559.2 722.5 559.8 706.7 560.5 690.0 C561.2 673.3 562.2 657.5 563.0 640.0 C563.8 622.5 564.5 603.3 565.5 585.0 C566.5 566.7 567.6 548.3 569.0 530.0 C570.4 511.7 572.6 489.7 574.0 475.0 C575.4 460.3 575.9 452.5 577.2 441.7 C578.5 430.9 580.5 419.4 582.0 410.0 C583.5 400.6 584.5 394.2 586.0 385.0 C587.5 375.8 589.7 362.5 590.9 354.9 C592.1 347.3 592.5 344.7 593.4 339.6 C594.2 334.5 595.1 329.4 596.0 324.3 C596.9 319.2 597.6 314.1 598.5 308.9 C599.4 303.7 600.6 298.2 601.5 293.0 C602.4 287.8 602.8 282.5 603.6 277.4 C604.4 272.2 605.2 267.2 606.2 262.1 C607.2 257.0 608.6 251.9 609.6 246.8 C610.6 241.7 611.3 236.7 612.1 231.5 C612.9 226.3 613.5 220.8 614.5 215.6 C615.5 210.4 617.2 205.5 618.1 200.3 C619.0 195.1 619.3 189.7 620.1 184.5 C620.9 179.3 621.7 174.3 622.7 169.2 C623.7 164.1 625.4 158.9 626.3 153.8 C627.2 148.7 627.2 143.6 628.3 138.5 C629.4 133.4 630.8 126.2 632.9 123.2 C635.0 120.2 639.1 118.5 641.1 120.6 C643.1 122.6 643.7 130.4 644.6 135.5 C645.5 140.6 645.8 146.1 646.7 151.3 C647.6 156.5 649.0 161.4 649.8 166.6 C650.6 171.8 650.8 177.2 651.3 182.4 C651.8 187.6 652.3 192.6 652.8 197.8 C653.3 203.0 653.8 208.3 654.4 213.6 C655.0 218.9 655.8 224.2 656.4 229.4 C657.0 234.7 657.5 239.9 658.1 245.1 C658.7 250.3 659.2 255.3 659.8 260.4 C660.4 265.5 660.9 270.4 661.5 275.7 C662.1 280.9 662.6 286.6 663.2 291.9 C663.8 297.1 664.3 302.1 664.9 307.2 C665.5 312.3 666.2 317.4 666.6 322.6 C667.0 327.9 667.1 333.5 667.4 338.7 C667.7 343.9 668.0 348.8 668.3 354.0 C668.6 359.2 668.3 362.5 669.1 370.2 C669.9 377.9 671.4 390.0 673.0 400.0 C674.6 410.0 677.3 422.0 679.0 430.0 C680.7 438.0 682.4 442.5 683.4 448.0 C684.4 453.5 684.4 457.9 685.1 463.0 C685.8 468.1 686.9 473.6 687.8 478.9 C688.7 484.2 689.8 489.6 690.4 494.9 C691.0 500.2 690.8 505.7 691.3 510.8 C691.8 516.0 692.4 520.6 693.1 525.8 C693.9 531.0 695.1 536.6 695.8 541.8 C696.5 547.0 696.9 551.6 697.5 556.8 C698.1 561.9 698.8 567.4 699.3 572.7 C699.8 578.0 699.6 583.5 700.2 588.7 C700.8 593.9 702.1 598.6 702.8 603.7 C703.5 608.9 704.0 614.3 704.6 619.6 C705.2 624.9 706.0 630.4 706.4 635.6 C706.8 640.8 706.9 645.5 707.3 650.6 C707.7 655.8 708.4 661.3 709.0 666.5 C709.6 671.7 710.0 676.5 710.8 681.6 C711.5 686.7 712.9 691.8 713.5 697.0 C714.1 702.2 713.8 707.7 714.2 713.0 C714.6 718.3 715.5 723.6 716.0 728.9 C716.5 734.2 716.6 739.5 716.9 744.8 C717.2 750.1 717.2 755.5 717.8 760.8 C718.4 766.1 719.7 771.6 720.4 776.7 C721.1 781.9 721.8 786.7 722.2 791.7 C722.7 796.7 722.5 801.6 723.1 806.8 C723.7 812.0 724.8 817.4 725.7 822.7 C726.6 828.0 727.7 833.5 728.4 838.6 C729.1 843.8 729.1 848.6 730.1 853.6 C731.1 858.6 732.5 867.4 734.6 868.7 C736.7 870.0 740.4 865.3 742.5 861.6 C744.6 857.9 745.8 851.6 747.0 846.6 C748.2 841.6 748.7 836.5 749.6 831.5 C750.5 826.5 751.4 821.6 752.3 816.5 C753.2 811.4 754.0 805.8 754.9 800.6 C755.8 795.4 756.6 790.5 757.6 785.5 C758.6 780.5 759.9 775.6 761.1 770.5 C762.3 765.4 763.1 759.6 764.6 754.6 C766.1 749.6 767.8 745.0 770.0 740.4 C772.2 735.8 775.5 731.7 777.9 727.1 C780.3 722.5 782.7 717.6 784.6 712.7 C786.5 707.8 787.8 702.6 789.3 697.6 C790.8 692.6 792.8 687.7 793.9 682.6 C795.0 677.5 794.7 672.3 795.7 667.1 C796.7 661.9 798.8 656.5 799.7 651.4 C800.6 646.3 800.7 641.5 801.3 636.3 C801.9 631.1 802.4 625.3 803.1 620.1 C803.8 614.9 804.7 610.3 805.5 605.1 C806.3 599.9 807.2 594.1 807.8 588.9 C808.4 583.7 808.4 579.0 808.9 573.9 C809.4 568.8 809.8 563.6 810.5 558.4 C811.2 553.2 812.1 547.9 812.9 542.6 C813.7 537.4 814.5 532.1 815.2 526.9 C815.9 521.7 816.4 516.6 817.0 511.4 C817.6 506.2 818.2 501.0 818.9 495.9 C819.6 490.8 820.2 485.7 821.2 480.6 C822.2 475.5 823.6 470.2 825.1 465.1 C826.6 460.0 827.8 451.5 830.4 450.1 C833.0 448.8 838.3 453.2 840.6 457.0 C842.9 460.8 842.8 467.7 844.1 472.8 C845.4 477.9 847.3 482.8 848.5 487.8 C849.7 492.8 850.1 497.5 851.3 502.6 C852.5 507.7 854.5 513.2 855.9 518.3 C857.3 523.4 858.2 528.6 859.8 533.4 C861.4 538.2 862.6 543.8 865.6 547.3 C868.6 550.8 873.7 553.1 877.9 554.2 C882.1 555.4 886.5 552.6 890.6 554.2 C894.7 555.8 898.5 562.9 902.6 563.9 C906.7 564.9 911.9 562.9 915.4 560.0 C918.9 557.1 921.2 551.3 923.5 546.8 C925.8 542.2 927.2 537.5 929.2 532.7 C931.2 528.0 933.4 523.1 935.5 518.3 C937.6 513.4 939.9 508.3 942.0 503.6 C944.1 498.9 945.8 494.8 948.0 490.0 C950.2 485.2 952.5 479.4 955.0 475.0 C957.5 470.6 959.5 464.4 963.1 463.4 C966.7 462.4 971.6 467.4 976.4 469.0 C981.2 470.6 987.0 472.5 991.7 473.1 C996.4 473.7 1000.1 473.0 1004.7 472.6 C1009.3 472.2 1014.4 470.6 1019.1 470.8 C1023.9 471.0 1029.7 475.6 1033.2 473.7 C1036.8 471.8 1038.2 464.4 1040.4 459.6 C1042.6 454.8 1044.2 449.7 1046.2 445.0 C1048.2 440.3 1050.0 436.1 1052.3 431.5 C1054.6 426.9 1057.3 421.9 1060.2 417.6 C1063.1 413.3 1066.5 409.6 1069.8 405.7 C1073.0 401.8 1076.7 398.5 1079.7 394.4 C1082.7 390.3 1085.1 385.4 1087.8 381.0 C1090.5 376.6 1093.5 372.7 1096.1 368.2 C1098.7 363.7 1100.9 358.7 1103.3 354.0 C1105.7 349.3 1108.1 344.4 1110.7 339.9 C1113.3 335.4 1115.5 328.9 1119.0 327.1 C1122.5 325.3 1128.1 327.0 1132.0 329.3 C1135.9 331.6 1139.3 337.1 1142.4 341.2 C1145.5 345.2 1148.0 349.2 1150.6 353.6 C1153.1 358.0 1154.9 363.9 1157.7 367.4 C1160.5 370.9 1164.3 375.8 1167.4 374.8 C1170.5 373.8 1173.0 365.3 1176.3 361.6 C1179.5 357.9 1183.1 352.3 1186.9 352.4 C1190.7 352.4 1195.0 359.5 1199.3 361.9 C1203.6 364.3 1208.9 364.2 1212.9 366.9 C1216.9 369.6 1220.8 373.8 1223.5 378.0 C1226.2 382.2 1227.3 387.4 1229.3 392.2 C1231.2 397.0 1233.6 401.8 1235.2 406.7 C1236.8 411.6 1236.6 417.5 1239.1 421.7 C1241.6 425.9 1246.2 429.1 1250.0 431.8 C1253.8 434.6 1258.8 435.0 1262.1 438.2 C1265.4 441.4 1267.7 446.4 1270.0 450.9 C1272.3 455.4 1273.9 460.7 1276.2 465.4 C1278.5 470.1 1280.8 474.9 1283.7 478.9 C1286.7 482.9 1290.1 486.2 1293.9 489.5 C1297.7 492.8 1302.8 494.9 1306.3 498.7 C1309.8 502.4 1312.1 507.6 1314.8 512.0 C1317.5 516.4 1319.1 522.2 1322.2 525.2 C1325.3 528.2 1329.4 530.6 1333.2 529.7 C1337.0 528.8 1340.9 523.0 1344.9 519.9 C1348.9 516.8 1355.2 512.6 1357.3 511.1" fill="none" stroke="#e00000" stroke-width="7.2" stroke-linecap="round" stroke-dasharray="0 15.3849"/>
<circle cx="1357.3" cy="511.1" r="3.6" fill="#e00000"/>
<g font-family="'Liberation Sans', Arial, Helvetica, sans-serif" fill="#000" stroke="#000" stroke-width="0.35">
<text x="188.4" y="364.5" font-size="62" text-anchor="end">−2</text>
<text x="142.0" y="766.0" font-size="62">0</text>
<text x="140.0" y="1059.5" font-size="62">2</text>
<text x="148.8" y="1322.3" font-size="62">−200</text>
<text x="443.0" y="1322.3" font-size="62" text-anchor="middle">0</text>
<text x="646.9" y="1322.3" font-size="62" text-anchor="middle">200</text>
<text x="850.7" y="1322.3" font-size="62" text-anchor="middle">400</text>
<text x="1054.6" y="1322.3" font-size="62" text-anchor="middle">600</text>
<text x="1258.5" y="1322.3" font-size="62" text-anchor="middle">800</text>
<text x="627.9" y="1415.2" font-size="64.5" textLength="267.7" lengthAdjust="spacingAndGlyphs">Time (ms)</text>
<text transform="translate(65.6 850.2) rotate(-90)" font-size="64.5" textLength="397.3" lengthAdjust="spacingAndGlyphs">Amplitude (μV)</text>
<text x="1569.2" y="118.0" font-size="64.5" textLength="169.4" lengthAdjust="spacingAndGlyphs">Polish</text>
<text x="1750.1" y="118.0" font-size="64.5" textLength="102.9" lengthAdjust="spacingAndGlyphs">(L1)</text>
<text x="1569.2" y="361.1" font-size="64.5" textLength="169.4" lengthAdjust="spacingAndGlyphs">Polish</text>
<text x="1750.1" y="361.1" font-size="64.5" textLength="102.9" lengthAdjust="spacingAndGlyphs">(L1)</text>
<text x="1569.7" y="605.1" font-size="64.5" textLength="199.4" lengthAdjust="spacingAndGlyphs">English</text>
<text x="1782.4" y="605.1" font-size="64.5" textLength="102.0" lengthAdjust="spacingAndGlyphs">(L2)</text>
<text x="1569.7" y="848.9" font-size="64.5" textLength="199.4" lengthAdjust="spacingAndGlyphs">English</text>
<text x="1782.4" y="848.9" font-size="64.5" textLength="102.0" lengthAdjust="spacingAndGlyphs">(L2)</text>
<text x="1569.2" y="191.0" font-size="64.5" textLength="391.6" lengthAdjust="spacingAndGlyphs">Positive mood</text>
<text x="1569.5" y="433.7" font-size="64.5" textLength="416.4" lengthAdjust="spacingAndGlyphs">Negative mood</text>
<text x="1569.2" y="678.2" font-size="64.5" textLength="391.6" lengthAdjust="spacingAndGlyphs">Positive mood</text>
<text x="1569.5" y="921.9" font-size="64.5" textLength="416.4" lengthAdjust="spacingAndGlyphs">Negative mood</text>
</g>
<line x1="1582" y1="29" x2="1868.5" y2="29" stroke="#e00000" stroke-width="14" stroke-linecap="round"/>
<line x1="1582" y1="265" x2="1868.5" y2="265" stroke="#001a60" stroke-width="13.5" stroke-linecap="round"/>
<circle cx="1582.7" cy="513.3" r="7.6" fill="#e00000"/>
<circle cx="1582.4" cy="757.2" r="7.4" fill="#001a60"/>
<circle cx="1613.0" cy="513.3" r="7.6" fill="#e00000"/>
<circle cx="1612.7" cy="757.2" r="7.4" fill="#001a60"/>
<circle cx="1643.4" cy="513.3" r="7.6" fill="#e00000"/>
<circle cx="1643.1" cy="757.2" r="7.4" fill="#001a60"/>
<circle cx="1673.7" cy="513.3" r="7.6" fill="#e00000"/>
<circle cx="1673.4" cy="757.2" r="7.4" fill="#001a60"/>
<circle cx="1704.1" cy="513.3" r="7.6" fill="#e00000"/>
<circle cx="1703.8" cy="757.2" r="7.4" fill="#001a60"/>
<circle cx="1734.4" cy="513.3" r="7.6" fill="#e00000"/>
<circle cx="1734.1" cy="757.2" r="7.4" fill="#001a60"/>
<circle cx="1764.7" cy="513.3" r="7.6" fill="#e00000"/>
<circle cx="1764.4" cy="757.2" r="7.4" fill="#001a60"/>
<circle cx="1795.1" cy="513.3" r="7.6" fill="#e00000"/>
<circle cx="1794.8" cy="757.2" r="7.4" fill="#001a60"/>
<circle cx="1825.4" cy="513.3" r="7.6" fill="#e00000"/>
<circle cx="1825.1" cy="757.2" r="7.4" fill="#001a60"/>
<circle cx="1855.8" cy="513.3" r="7.6" fill="#e00000"/>
<circle cx="1855.5" cy="757.2" r="7.4" fill="#001a60"/>
<path d="M1692.7 1043.8 C1693.0 1043.2 1693.2 1042.6 1694.6 1040.0 C1696.0 1037.4 1699.0 1031.5 1701.2 1028.0 C1703.4 1024.5 1705.7 1021.2 1708.0 1018.7 C1710.3 1016.2 1712.5 1014.1 1714.8 1012.9 C1717.1 1011.7 1719.3 1011.3 1721.6 1011.3 C1723.9 1011.3 1726.1 1011.7 1728.4 1012.9 C1730.7 1014.1 1732.9 1015.9 1735.2 1018.7 C1737.5 1021.5 1739.9 1026.1 1742.0 1029.7 C1744.1 1033.3 1746.5 1038.1 1747.9 1040.3 C1749.3 1042.5 1750.0 1042.7 1750.4 1043.1 A201.2 201.2 0 0 1 1924.7 1219.8 C1925.4 1218.6 1927.1 1215.5 1929.0 1212.8 C1930.9 1210.1 1933.5 1206.4 1936.0 1203.6 C1938.5 1200.8 1941.1 1197.8 1944.0 1196.0 C1946.9 1194.2 1950.4 1193.0 1953.3 1192.6 C1956.2 1192.2 1959.6 1192.5 1961.2 1193.6 C1962.8 1194.7 1963.4 1196.8 1963.1 1199.0 C1962.8 1201.2 1960.7 1204.0 1959.1 1207.1 C1957.5 1210.2 1955.2 1213.8 1953.3 1217.5 C1951.4 1221.2 1949.0 1225.3 1947.5 1229.0 C1946.0 1232.7 1944.7 1236.2 1944.0 1239.5 C1943.3 1242.8 1943.1 1245.2 1943.5 1249.0 C1943.9 1252.8 1945.0 1258.4 1946.4 1262.6 C1947.9 1266.8 1950.1 1270.1 1952.2 1274.2 C1954.3 1278.3 1957.4 1283.0 1959.1 1287.0 C1960.8 1291.0 1962.2 1294.7 1962.6 1298.5 C1963.0 1302.3 1962.8 1306.4 1961.4 1310.1 C1960.1 1313.8 1957.4 1317.9 1954.5 1320.5 C1951.6 1323.1 1947.5 1325.2 1944.0 1325.8 C1940.5 1326.4 1936.5 1324.8 1933.6 1324.0 C1930.7 1323.2 1929.3 1321.2 1926.7 1320.8 C1924.1 1320.4 1920.9 1321.5 1918.0 1321.5 C1915.1 1321.5 1910.7 1321.1 1909.3 1321.0 A201.2 201.2 0 0 1 1538.7 1321.0 C1537.3 1321.1 1532.9 1321.5 1530.0 1321.5 C1527.1 1321.5 1523.9 1320.4 1521.3 1320.8 C1518.7 1321.2 1517.3 1323.2 1514.4 1324.0 C1511.5 1324.8 1507.5 1326.4 1504.0 1325.8 C1500.5 1325.2 1496.4 1323.1 1493.5 1320.5 C1490.6 1317.9 1487.9 1313.8 1486.6 1310.1 C1485.2 1306.4 1485.0 1302.3 1485.4 1298.5 C1485.8 1294.7 1487.2 1291.0 1488.9 1287.0 C1490.6 1283.0 1493.7 1278.3 1495.8 1274.2 C1497.9 1270.1 1500.1 1266.8 1501.6 1262.6 C1503.0 1258.4 1504.1 1252.8 1504.5 1249.0 C1504.9 1245.2 1504.7 1242.8 1504.0 1239.5 C1503.3 1236.2 1502.0 1232.7 1500.5 1229.0 C1499.0 1225.3 1496.6 1221.2 1494.7 1217.5 C1492.8 1213.8 1490.5 1210.2 1488.9 1207.1 C1487.3 1204.0 1485.2 1201.2 1484.9 1199.0 C1484.6 1196.8 1485.2 1194.7 1486.8 1193.6 C1488.4 1192.5 1491.8 1192.2 1494.7 1192.6 C1497.6 1193.0 1501.1 1194.2 1504.0 1196.0 C1506.9 1197.8 1509.5 1200.8 1512.0 1203.6 C1514.5 1206.4 1517.1 1210.1 1519.0 1212.8 C1520.9 1215.5 1522.6 1218.6 1523.3 1219.8 A201.2 201.2 0 0 1 1692.7 1043.8 Z" fill="#ebebeb" stroke="#151515" stroke-width="3" stroke-linejoin="round"/>
<path d="M1724.0 1046 L1724.0 1444 M1523.5 1242.8 L1924.5 1242.8 M1672.8 1088.8 A162.5 162.5 0 0 1 1775.2 1088.8 M1672.8 1088.8 L1627.5 1110.9 M1775.2 1088.8 L1820.5 1110.9 M1627.5 1110.9 L1590.7 1147.0 M1820.5 1110.9 L1857.3 1147.0 M1590.7 1147.0 L1568.5 1189.2 M1857.3 1147.0 L1879.5 1189.2 M1568.5 1189.2 L1560.0 1242.8 M1879.5 1189.2 L1888.0 1242.8 M1560.0 1242.8 L1569.5 1295.8 M1888.0 1242.8 L1878.5 1295.8 M1569.5 1295.8 L1590.4 1338.5 M1878.5 1295.8 L1857.6 1338.5 M1590.4 1338.5 L1627.7 1374.0 M1857.6 1338.5 L1820.3 1374.0 M1627.7 1374.0 L1673.8 1397.8 M1820.3 1374.0 L1774.2 1397.8 M1673.8 1397.8 L1724.0 1405.6 M1774.2 1397.8 L1724.0 1405.6 M1530.8 1177.0 L1568.5 1189.2 M1917.2 1177.0 L1879.5 1189.2 M1530.8 1307.8 L1569.5 1295.8 M1917.2 1307.8 L1878.5 1295.8 M1674.2 1124.4 L1724.0 1121.2 M1773.8 1124.4 L1724.0 1121.2 M1674.2 1124.4 L1656.9 1158.9 M1773.8 1124.4 L1791.1 1158.9 M1590.7 1147.0 L1623.2 1152.5 M1857.3 1147.0 L1824.8 1152.5 M1623.2 1152.5 L1656.9 1158.9 M1824.8 1152.5 L1791.1 1158.9 M1656.9 1158.9 L1724.0 1161.0 M1791.1 1158.9 L1724.0 1161.0 M1568.5 1189.2 L1607.8 1195.6 M1879.5 1189.2 L1840.2 1195.6 M1607.8 1195.6 L1645.9 1199.4 M1840.2 1195.6 L1802.1 1199.4 M1645.9 1199.4 L1685.8 1201.5 M1802.1 1199.4 L1762.2 1201.5 M1685.8 1201.5 L1724.0 1202.2 M1762.2 1201.5 L1724.0 1202.2 M1590.7 1147.0 L1568.5 1189.2 M1857.3 1147.0 L1879.5 1189.2 M1623.2 1152.5 L1607.8 1195.6 M1824.8 1152.5 L1840.2 1195.6 M1656.9 1158.9 L1645.9 1199.4 M1791.1 1158.9 L1802.1 1199.4 M1568.5 1189.2 L1560.0 1242.8 M1879.5 1189.2 L1888.0 1242.8 M1607.8 1195.6 L1600.3 1242.8 M1840.2 1195.6 L1847.7 1242.8 M1645.9 1199.4 L1641.0 1242.8 M1802.1 1199.4 L1807.0 1242.8 M1685.8 1201.5 L1683.0 1242.8 M1762.2 1201.5 L1765.0 1242.8 M1560.0 1242.8 L1569.5 1295.8 M1888.0 1242.8 L1878.5 1295.8 M1600.3 1242.8 L1608.0 1288.8 M1847.7 1242.8 L1840.0 1288.8 M1641.0 1242.8 L1645.5 1285.6 M1807.0 1242.8 L1802.5 1285.6 M1683.0 1242.8 L1685.8 1284.0 M1765.0 1242.8 L1762.2 1284.0 M1569.5 1295.8 L1608.0 1288.8 M1878.5 1295.8 L1840.0 1288.8 M1608.0 1288.8 L1645.5 1285.6 M1840.0 1288.8 L1802.5 1285.6 M1645.5 1285.6 L1685.8 1284.0 M1802.5 1285.6 L1762.2 1284.0 M1685.8 1284.0 L1724.0 1284.0 M1762.2 1284.0 L1724.0 1284.0 M1608.0 1288.8 L1623.2 1332.5 M1840.0 1288.8 L1824.8 1332.5 M1645.5 1285.6 L1657.0 1327.5 M1802.5 1285.6 L1791.0 1327.5 M1685.8 1284.0 L1691.5 1325.0 M1762.2 1284.0 L1756.5 1325.0 M1590.4 1338.5 L1623.2 1332.5 M1857.6 1338.5 L1824.8 1332.5 M1623.2 1332.5 L1657.0 1327.5 M1824.8 1332.5 L1791.0 1327.5 M1657.0 1327.5 L1691.5 1325.0 M1791.0 1327.5 L1756.5 1325.0 M1691.5 1325.0 L1724.0 1324.0 M1756.5 1325.0 L1724.0 1324.0 M1657.0 1327.5 L1674.7 1362.0 M1791.0 1327.5 L1773.3 1362.0" fill="none" stroke="#151515" stroke-width="2.8"/>
<circle cx="1672.8" cy="1088.8" r="12.4" fill="#fff" stroke="#151515" stroke-width="2.8"/>
<circle cx="1775.2" cy="1088.8" r="12.4" fill="#fff" stroke="#151515" stroke-width="2.8"/>
<circle cx="1627.5" cy="1110.9" r="12.4" fill="#fff" stroke="#151515" stroke-width="2.8"/>
<circle cx="1820.5" cy="1110.9" r="12.4" fill="#fff" stroke="#151515" stroke-width="2.8"/>
<circle cx="1674.2" cy="1124.4" r="12.4" fill="#fff" stroke="#151515" stroke-width="2.8"/>
<circle cx="1773.8" cy="1124.4" r="12.4" fill="#fff" stroke="#151515" stroke-width="2.8"/>
<circle cx="1724.0" cy="1121.2" r="12.4" fill="#fff" stroke="#151515" stroke-width="2.8"/>
<circle cx="1590.7" cy="1147.0" r="12.4" fill="#fff" stroke="#151515" stroke-width="2.8"/>
<circle cx="1857.3" cy="1147.0" r="12.4" fill="#fff" stroke="#151515" stroke-width="2.8"/>
<circle cx="1623.2" cy="1152.5" r="12.4" fill="#fff" stroke="#151515" stroke-width="2.8"/>
<circle cx="1824.8" cy="1152.5" r="12.4" fill="#fff" stroke="#151515" stroke-width="2.8"/>
<circle cx="1656.9" cy="1158.9" r="12.4" fill="#fff" stroke="#151515" stroke-width="2.8"/>
<circle cx="1791.1" cy="1158.9" r="12.4" fill="#fff" stroke="#151515" stroke-width="2.8"/>
<circle cx="1724.0" cy="1161.0" r="12.4" fill="#fff" stroke="#151515" stroke-width="2.8"/>
<circle cx="1530.8" cy="1177.0" r="12.4" fill="#fff" stroke="#151515" stroke-width="2.8"/>
<circle cx="1917.2" cy="1177.0" r="12.4" fill="#fff" stroke="#151515" stroke-width="2.8"/>
<circle cx="1568.5" cy="1189.2" r="12.4" fill="#fff" stroke="#151515" stroke-width="2.8"/>
<circle cx="1879.5" cy="1189.2" r="12.4" fill="#fff" stroke="#151515" stroke-width="2.8"/>
<circle cx="1607.8" cy="1195.6" r="12.4" fill="#fff" stroke="#151515" stroke-width="2.8"/>
<circle cx="1840.2" cy="1195.6" r="12.4" fill="#fff" stroke="#151515" stroke-width="2.8"/>
<circle cx="1645.9" cy="1199.4" r="12.4" fill="#fff" stroke="#151515" stroke-width="2.8"/>
<circle cx="1802.1" cy="1199.4" r="12.4" fill="#fff" stroke="#151515" stroke-width="2.8"/>
<circle cx="1685.8" cy="1201.5" r="12.4" fill="#fff" stroke="#151515" stroke-width="2.8"/>
<circle cx="1762.2" cy="1201.5" r="12.4" fill="#fff" stroke="#151515" stroke-width="2.8"/>
<circle cx="1724.0" cy="1202.2" r="12.4" fill="#fff" stroke="#151515" stroke-width="2.8"/>
<circle cx="1560.0" cy="1242.8" r="12.4" fill="#fff" stroke="#151515" stroke-width="2.8"/>
<circle cx="1888.0" cy="1242.8" r="12.4" fill="#fff" stroke="#151515" stroke-width="2.8"/>
<circle cx="1600.3" cy="1242.8" r="12.4" fill="#fff" stroke="#151515" stroke-width="2.8"/>
<circle cx="1847.7" cy="1242.8" r="12.4" fill="#fff" stroke="#151515" stroke-width="2.8"/>
<circle cx="1641.0" cy="1242.8" r="12.4" fill="#fff" stroke="#151515" stroke-width="2.8"/>
<circle cx="1807.0" cy="1242.8" r="12.4" fill="#fff" stroke="#151515" stroke-width="2.8"/>
<circle cx="1683.0" cy="1242.8" r="12.4" fill="#fff" stroke="#151515" stroke-width="2.8"/>
<circle cx="1765.0" cy="1242.8" r="12.4" fill="#fff" stroke="#151515" stroke-width="2.8"/>
<circle cx="1724.0" cy="1242.8" r="12.4" fill="#fff" stroke="#151515" stroke-width="2.8"/>
<circle cx="1530.8" cy="1307.8" r="12.4" fill="#fff" stroke="#151515" stroke-width="2.8"/>
<circle cx="1917.2" cy="1307.8" r="12.4" fill="#fff" stroke="#151515" stroke-width="2.8"/>
<circle cx="1569.5" cy="1295.8" r="12.4" fill="#fff" stroke="#151515" stroke-width="2.8"/>
<circle cx="1878.5" cy="1295.8" r="12.4" fill="#fff" stroke="#151515" stroke-width="2.8"/>
<circle cx="1608.0" cy="1288.8" r="12.4" fill="#fff" stroke="#151515" stroke-width="2.8"/>
<circle cx="1840.0" cy="1288.8" r="12.4" fill="#fff" stroke="#151515" stroke-width="2.8"/>
<circle cx="1645.5" cy="1285.6" r="12.4" fill="#fff" stroke="#151515" stroke-width="2.8"/>
<circle cx="1802.5" cy="1285.6" r="12.4" fill="#fff" stroke="#151515" stroke-width="2.8"/>
<circle cx="1685.8" cy="1284.0" r="12.4" fill="#fff" stroke="#151515" stroke-width="2.8"/>
<circle cx="1762.2" cy="1284.0" r="12.4" fill="#fff" stroke="#151515" stroke-width="2.8"/>
<circle cx="1724.0" cy="1284.0" r="12.4" fill="#fff" stroke="#151515" stroke-width="2.8"/>
<circle cx="1590.4" cy="1338.5" r="12.4" fill="#000" stroke="#151515" stroke-width="2.8"/>
<circle cx="1857.6" cy="1338.5" r="12.4" fill="#000" stroke="#151515" stroke-width="2.8"/>
<circle cx="1623.2" cy="1332.5" r="12.4" fill="#fff" stroke="#151515" stroke-width="2.8"/>
<circle cx="1824.8" cy="1332.5" r="12.4" fill="#fff" stroke="#151515" stroke-width="2.8"/>
<circle cx="1657.0" cy="1327.5" r="12.4" fill="#fff" stroke="#151515" stroke-width="2.8"/>
<circle cx="1791.0" cy="1327.5" r="12.4" fill="#fff" stroke="#151515" stroke-width="2.8"/>
<circle cx="1691.5" cy="1325.0" r="12.4" fill="#fff" stroke="#151515" stroke-width="2.8"/>
<circle cx="1756.5" cy="1325.0" r="12.4" fill="#fff" stroke="#151515" stroke-width="2.8"/>
<circle cx="1724.0" cy="1324.0" r="12.4" fill="#fff" stroke="#151515" stroke-width="2.8"/>
<circle cx="1627.7" cy="1374.0" r="12.4" fill="#000" stroke="#151515" stroke-width="2.8"/>
<circle cx="1820.3" cy="1374.0" r="12.4" fill="#000" stroke="#151515" stroke-width="2.8"/>
<circle cx="1674.7" cy="1362.0" r="12.4" fill="#fff" stroke="#151515" stroke-width="2.8"/>
<circle cx="1773.3" cy="1362.0" r="12.4" fill="#fff" stroke="#151515" stroke-width="2.8"/>
<circle cx="1724.0" cy="1365.0" r="12.4" fill="#fff" stroke="#151515" stroke-width="2.8"/>
<circle cx="1673.8" cy="1397.8" r="12.4" fill="#fff" stroke="#151515" stroke-width="2.8"/>
<circle cx="1774.2" cy="1397.8" r="12.4" fill="#fff" stroke="#151515" stroke-width="2.8"/>
<circle cx="1724.0" cy="1405.6" r="12.4" fill="#fff" stroke="#151515" stroke-width="2.8"/>
</svg></body></html>
